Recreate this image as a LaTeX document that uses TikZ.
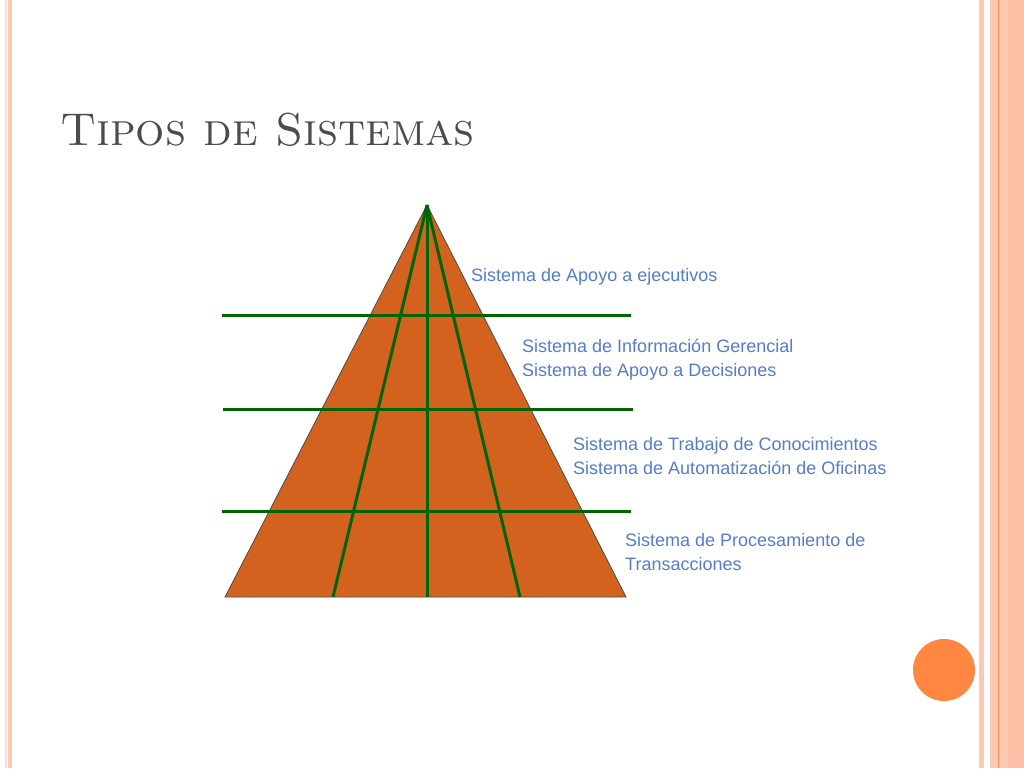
\documentclass[tikz,border=0pt]{standalone}
\usepackage{fontspec}
\newfontfamily\lsans{Liberation Sans}
\definecolor{lbc}{RGB}{84,125,205}
\definecolor{sal}{RGB}{251,200,180}
\definecolor{sal2}{RGB}{252,190,165}
\definecolor{pyr}{RGB}{210,98,30}
\definecolor{circ}{RGB}{255,135,65}
\definecolor{grn}{RGB}{0,100,0}
\begin{document}
\begin{tikzpicture}[x=1pt,y=-1pt,
  gl/.style={draw=grn,line width=3pt},
  lbl/.style={anchor=west,inner sep=0pt,text=lbc,font=\lsans\fontsize{18}{24}\selectfont,align=left}]
\fill[white] (0,0) rectangle (1024,768);
\useasboundingbox (0,0) rectangle (1024,768);
% borders
\fill[sal!60] (5,0) rectangle (7,768);
\fill[sal] (8,0) rectangle (12,768);
\fill[sal] (979,0) rectangle (984,768);
\fill[sal] (990,0) rectangle (1024,768);
\fill[sal2] (1008,0) rectangle (1024,768);
\draw[orange!80!red!70,line width=1pt] (998,0) -- (998,768);
% title
\node[anchor=base west,inner sep=0pt,text=black!70,font=\fontsize{46}{50}\selectfont] (title) at (60,145) {\textsc{Tipos de Sistemas}};
% pyramid
\coordinate (apex) at (427,205);
\coordinate (bl) at (225,597);
\coordinate (br) at (626,597);
\fill[fill=pyr,draw=black!70,line width=0.8pt] (apex) -- (bl) -- (br) -- cycle;
\coordinate (b1) at (333,597);
\coordinate (b2) at (427,597);
\coordinate (b3) at (520,597);
\draw[gl] (apex) -- (b1);
\draw[gl] (apex) -- (b2);
\draw[gl] (apex) -- (b3);
\coordinate (h1a) at (222,315); \coordinate (h1b) at (631,315);
\coordinate (h2a) at (223,409); \coordinate (h2b) at (633,409);
\coordinate (h3a) at (222,511); \coordinate (h3b) at (631,511);
\draw[gl] (h1a) -- (h1b);
\draw[gl] (h2a) -- (h2b);
\draw[gl] (h3a) -- (h3b);
% labels
\node[lbl] (l1) at (471,277) {Sistema de Apoyo a ejecutivos};
\node[lbl] (l2) at (522,360) {Sistema de Información Gerencial\\Sistema de Apoyo a Decisiones};
\node[lbl] (l3) at (573,456) {Sistema de Trabajo de Conocimientos\\Sistema de Automatización de Oficinas};
\node[lbl] (l4) at (625,552) {Sistema de Procesamiento de\\Transacciones};
% circle
\fill[circ] (944,670) circle (31);
\end{tikzpicture}
\end{document}
